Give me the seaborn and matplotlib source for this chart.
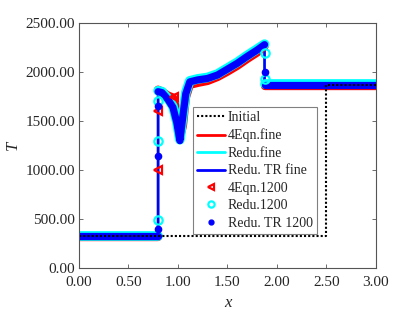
import numpy as np
import pandas as pd
import matplotlib
matplotlib.use("Agg")
import matplotlib.pyplot as plt
from matplotlib.lines import Line2D
import seaborn as sns

# initial condition
x_init = [0.0, 2.5, 2.5, 3.0]
T_init = [330, 330, 1870, 1870]

# fine-grid profiles (shared x)
x_fine = [0.00, 0.80, 0.80, 0.84, 0.90, 0.95, 0.99, 1.02, 1.05, 1.08, 1.12, 1.20,
          1.30, 1.40, 1.50, 1.60, 1.70, 1.80, 1.875, 1.875, 3.00]
T_4eqn_fine = [315, 315, 1820, 1800, 1760, 1740, 1600, 1330, 1450, 1740, 1870, 1890,
               1910, 1950, 2005, 2065, 2135, 2200, 2265, 1860, 1860]
T_redu_fine = [330, 330, 1810, 1800, 1730, 1650, 1490, 1310, 1560, 1790, 1910, 1930,
               1945, 1980, 2040, 2100, 2170, 2235, 2285, 1875, 1875]
T_tr_fine = [330, 330, 1800, 1790, 1720, 1640, 1480, 1300, 1550, 1780, 1900, 1920,
             1935, 1970, 2030, 2090, 2160, 2225, 2280, 1870, 1870]
# smooth pieces between the jumps (the 1200-cell markers pile up there)
seg = [0, 0, 1, 1, 1, 1, 1, 1, 1, 1, 1, 1, 1, 1, 1, 1, 1, 1, 1, 2, 2]

# isolated 1200-cell points inside the jumps
x_4eqn_pts = [0.80, 0.80, 0.96]
T_4eqn_pts = [1000, 1600, 1745]
x_redu_pts = [0.80, 0.80, 0.80, 1.875, 1.875]
T_redu_pts = [490, 1300, 1700, 2190, 1930]
x_tr_pts = [0.80, 0.80, 0.80, 1.875]
T_tr_pts = [400, 1140, 1650, 2000]

sns.set_theme(style="ticks")
plt.rcParams['font.family'] = ['Liberation Serif', 'DejaVu Serif']
plt.rcParams['xtick.direction'] = 'in'
plt.rcParams['ytick.direction'] = 'in'

fig, ax = plt.subplots(figsize=(4.15, 3.12), dpi=100)
fig.subplots_adjust(left=0.19, right=0.906, top=0.926, bottom=0.141)

df = pd.DataFrame({'x': x_fine, 'seg': seg, '4eqn': T_4eqn_fine,
                   'redu': T_redu_fine, 'tr': T_tr_fine})

# fine lines
sns.lineplot(x=x_fine, y=T_4eqn_fine, sort=False, estimator=None, color='red', lw=1.8, ax=ax)
sns.lineplot(x=x_fine, y=T_redu_fine, sort=False, estimator=None, color='cyan', lw=1.8, ax=ax)
sns.lineplot(x=x_fine, y=T_tr_fine, sort=False, estimator=None, color='blue', lw=1.8, ax=ax)

# dense 1200-cell markers, shown as bands
sns.lineplot(data=df, x='x', y='4eqn', units='seg', sort=False, estimator=None,
             color='red', lw=6.0, ax=ax)
sns.lineplot(data=df, x='x', y='redu', units='seg', sort=False, estimator=None,
             color='cyan', lw=7.0, ax=ax)
sns.lineplot(data=df, x='x', y='tr', units='seg', sort=False, estimator=None,
             color='blue', lw=5.2, ax=ax)

ax.plot(x_4eqn_pts, T_4eqn_pts, ls='none', marker='<', ms=6, mfc='none', mec='red', mew=1.6)
ax.plot(x_redu_pts, T_redu_pts, ls='none', marker='o', ms=6, mfc='none', mec='cyan', mew=1.6)
ax.plot(x_tr_pts, T_tr_pts, ls='none', marker='o', ms=4.5, color='blue')

sns.lineplot(x=x_init, y=T_init, sort=False, estimator=None, color='black', lw=1.5,
             ls=(0, (1, 1)), ax=ax)

ax.set_xlim(0, 3)
ax.set_ylim(0, 2500)
ax.set_xticks(np.arange(0, 3.01, 0.5))
ax.set_yticks(np.arange(0, 2501, 500))
ax.xaxis.set_major_formatter(matplotlib.ticker.FormatStrFormatter('%.2f'))
ax.yaxis.set_major_formatter(matplotlib.ticker.FormatStrFormatter('%.2f'))
ax.tick_params(top=True, right=True, labelsize=11, length=3, width=0.6, color='#555555')
ax.tick_params(axis='x', pad=6)
ax.tick_params(axis='y', pad=3)
for s in ax.spines.values():
    s.set_color('#555555')
    s.set_linewidth(0.8)
ax.set_xlabel('x', fontsize=12, fontstyle='italic', labelpad=4)
ax.set_ylabel('T', fontsize=12, fontstyle='italic', labelpad=3)

handles = [
    Line2D([], [], color='black', lw=1.5, ls=(0, (1, 1))),
    Line2D([], [], color='red', lw=2),
    Line2D([], [], color='cyan', lw=2),
    Line2D([], [], color='blue', lw=2),
    Line2D([], [], ls='none', marker='<', ms=4.5, mfc='none', mec='red', mew=1.6),
    Line2D([], [], ls='none', marker='o', ms=4.5, mfc='none', mec='cyan', mew=1.6),
    Line2D([], [], ls='none', marker='o', ms=3.5, color='blue'),
]
labels = ['Initial', '4Eqn.fine', 'Redu.fine', 'Redu. TR fine',
          '4Eqn.1200', 'Redu.1200', 'Redu. TR 1200']
leg = ax.legend(handles, labels, loc='upper left', bbox_to_anchor=(0.384, 0.657),
                borderaxespad=0, fontsize=10, frameon=True, fancybox=False,
                handlelength=2.0, handletextpad=0.2, labelspacing=0.32,
                borderpad=0.3)
leg.get_frame().set_edgecolor('#808080')
leg.get_frame().set_linewidth(0.8)
leg.get_frame().set_alpha(1)

fig.savefig('out.png', dpi=100)
